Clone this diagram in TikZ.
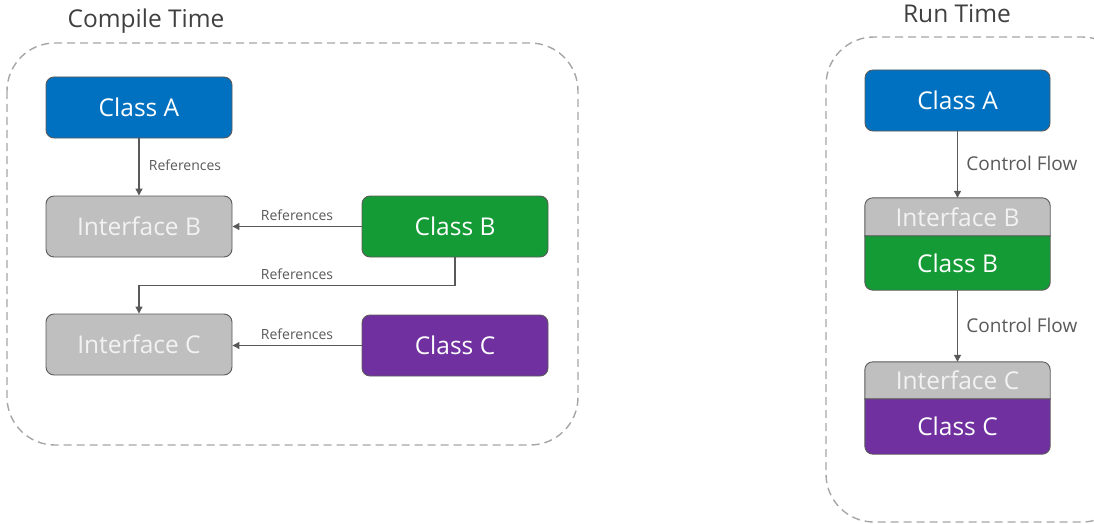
\documentclass[tikz,border=0pt]{standalone}
\usepackage{fontspec}
\setmainfont{Open Sans}
\usetikzlibrary{arrows.meta,backgrounds}
\definecolor{cblue}{HTML}{0070C0}
\definecolor{cgreen}{HTML}{149B36}
\definecolor{cpurple}{HTML}{7030A0}
\definecolor{cgray}{HTML}{BFBFBF}
\definecolor{edgec}{HTML}{595959}
\definecolor{boxline}{HTML}{5A5A5A}
\definecolor{dashc}{HTML}{A6A6A6}
\definecolor{titlec}{HTML}{404040}
\definecolor{itext}{HTML}{F2F2F2}
\begin{document}
\begin{tikzpicture}[x=1pt,y=-1pt,
  box/.style={draw=boxline, line width=0.9pt, rounded corners=8pt,
    minimum width=186pt, minimum height=61pt, inner sep=0pt,
    font=\fontsize{24.5}{28}\selectfont, text=white},
  iface/.style={box, fill=cgray, text=itext},
  stack/.style={minimum width=185pt, inner sep=0pt,
    font=\fontsize{24.5}{28}\selectfont, text=white},
  dashbox/.style={draw=dashc, line width=1.4pt, dash pattern=on 8pt off 5pt, rounded corners=48pt},
  titlestyle/.style={font=\fontsize{24.5}{28}\selectfont, text=titlec, inner sep=0pt},
  arr/.style={draw=edgec, line width=1.2pt, -{Triangle[length=7pt,width=7pt]}},
  lab/.style={font=\fontsize{14}{16}\selectfont, text=edgec},
  cflab/.style={font=\fontsize{19}{22}\selectfont, text=edgec}]
\useasboundingbox (0,0) rectangle (1094,524);
\clip (0,0) rectangle (1094,524);

% ---------- Compile Time ----------
\draw[dashbox] (7,43) rectangle (578,445);
\node[titlestyle] (ttlc) at (146,21) {Compile Time};

\node[box, fill=cblue] (ctA) at (139,107.5) {Class A};
\node[iface] (ctIB) at (139,226.5) {Interface B};
\node[box, fill=cgreen] (ctCB) at (455,226.5) {Class B};
\node[iface] (ctIC) at (139,344.5) {Interface C};
\node[box, fill=cpurple] (ctCC) at (455,345.5) {Class C};

\draw[arr] (ctA) -- node[right, lab, xshift=6pt, yshift=2pt] {References} (ctIB);
\draw[arr] (ctCB) -- node[above, lab, yshift=2pt] {References} (ctIB);
\draw[arr] (ctCB.south) -- ++(0,28) coordinate (k1) -| node[pos=0.25, above, lab, yshift=2pt] {References} (ctIC.north);
\draw[arr] (ctCC.west) -- node[above, lab, yshift=2pt] {References} (ctCC.west -| ctIC.east);

% ---------- Run Time ----------
\draw[dashbox] (826,37) rectangle (1130,522);
\node[titlestyle] (ttlr) at (957,14) {Run Time};

\node[box, fill=cblue, minimum width=185pt] (rtA) at (957.5,100.5) {Class A};
\node[stack, minimum height=38pt, text=itext] (rtIB) at (957.5,217) {Interface B};
\node[stack, minimum height=54pt] (rtCB) at (957.5,263) {Class B};
\node[stack, minimum height=37pt, text=itext] (rtIC) at (957.5,380.5) {Interface C};
\node[stack, minimum height=55pt] (rtCC) at (957.5,426.5) {Class C};

\begin{scope}[on background layer]
  \filldraw[fill=cgray, draw=boxline, line width=0.9pt]
    (rtIB.south west) [rounded corners=8pt] -- (rtIB.north west) -- (rtIB.north east) [sharp corners] -- (rtIB.south east) -- cycle;
  \filldraw[fill=cgreen, draw=boxline, line width=0.9pt]
    (rtCB.north west) [rounded corners=8pt] -- (rtCB.south west) -- (rtCB.south east) [sharp corners] -- (rtCB.north east) -- cycle;
  \filldraw[fill=cgray, draw=boxline, line width=0.9pt]
    (rtIC.south west) [rounded corners=8pt] -- (rtIC.north west) -- (rtIC.north east) [sharp corners] -- (rtIC.south east) -- cycle;
  \filldraw[fill=cpurple, draw=boxline, line width=0.9pt]
    (rtCC.north west) [rounded corners=8pt] -- (rtCC.south west) -- (rtCC.south east) [sharp corners] -- (rtCC.north east) -- cycle;
\end{scope}

\draw[arr] (rtA) -- node[right, cflab, xshift=5pt, yshift=1pt] {Control Flow} (rtIB);
\draw[arr] (rtCB) -- node[right, cflab, xshift=5pt, yshift=1pt] {Control Flow} (rtIC);
\end{tikzpicture}
\end{document}
